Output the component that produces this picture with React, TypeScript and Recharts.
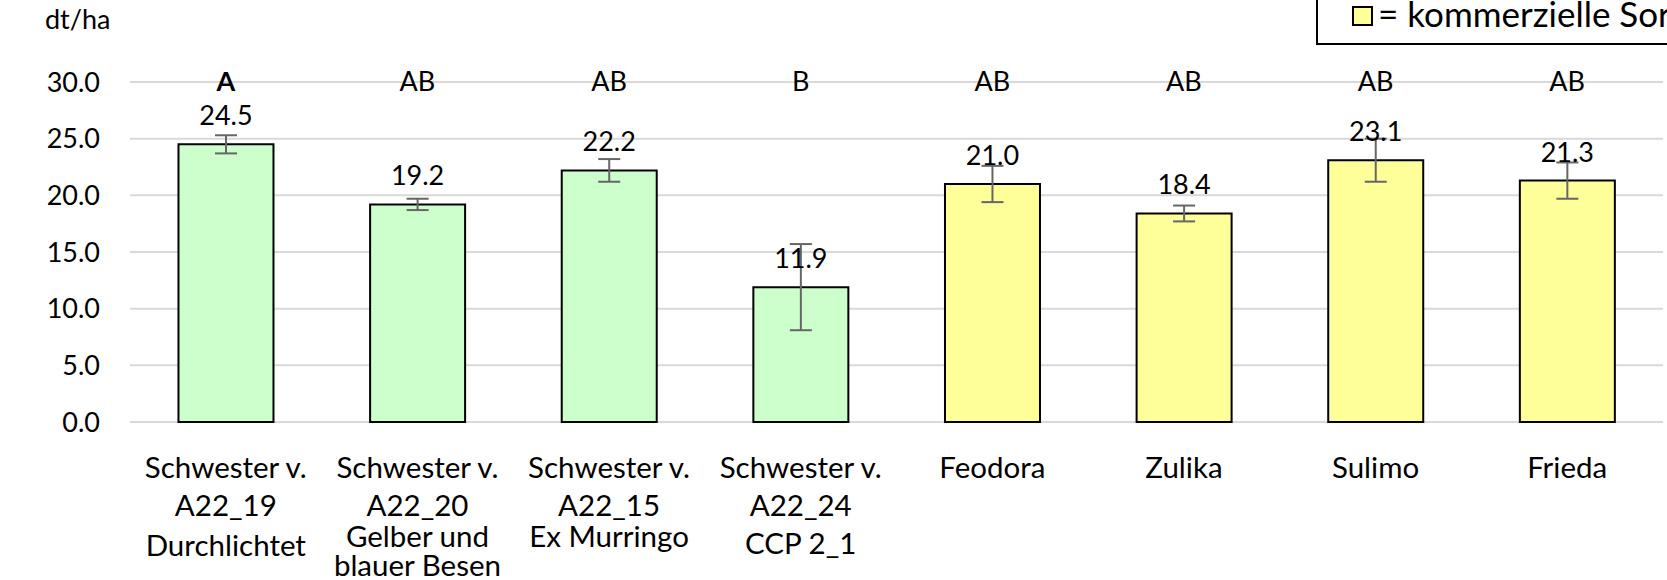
import React from "react";
import { ComposedChart, Bar, Cell, XAxis, YAxis, CartesianGrid, ErrorBar, LabelList, ReferenceDot } from "recharts";

// Ertrag je Sorte (dt/ha) mit Fehlerbalken und Signifikanzbuchstaben
const categoryLines = [
  ["Schwester v.", "A22_19", "Durchlichtet"],
  ["Schwester v.", "A22_20", "Gelber und", "blauer Besen"],
  ["Schwester v.", "A22_15", "Ex Murringo"],
  ["Schwester v.", "A22_24", "CCP 2_1"],
  ["Feodora"],
  ["Zulika"],
  ["Sulimo"],
  ["Frieda"],
];
const yieldValues = [24.5, 19.2, 22.2, 11.9, 21.0, 18.4, 23.1, 21.3];
const errorValues = [0.8, 0.5, 1.0, 3.8, 1.6, 0.7, 1.9, 1.6];
const letters = ["A", "AB", "AB", "B", "AB", "AB", "AB", "AB"];
const boldLetters = [true, false, false, false, false, false, false, false];
const commercial = [false, false, false, false, true, true, true, true];
const yTicks = [0, 5, 10, 15, 20, 25, 30];

const FONT = "Lato, 'DejaVu Sans', sans-serif";
const FS = 27;
const CAT_FS = 29.5;
const GREEN = "#CCFFCC";
const YELLOW = "#FFFF99";
// line gaps of the multi-line category labels (third line sits a bit tighter on some)
const thirdGap = [40, 31, 31, 38];

const data = categoryLines.map((lines, i) => ({
  name: lines.join(" "),
  value: yieldValues[i],
  err: errorValues[i],
}));

function CategoryTick({ x, y, payload }: any) {
  const idx = data.findIndex((d) => d.name === payload.value);
  const lines = categoryLines[idx] || [];
  return (
    <text x={x} y={y + 54} textAnchor="middle" fontFamily={FONT} fontSize={CAT_FS} fill="#000">
      {lines.map((l, i) => (
        <tspan key={i} x={x} dy={i === 0 ? 0 : i === 1 ? 38 : i === 2 ? thirdGap[idx] ?? 38 : 29}>
          {l}
        </tspan>
      ))}
    </text>
  );
}

function ValueLabel({ x, y, width, value }: any) {
  return (
    <text x={x + width / 2} y={y - 19} textAnchor="middle" fontFamily={FONT} fontSize={FS} fill="#000">
      {Number(value).toFixed(1)}
    </text>
  );
}

function letterLabel(i: number) {
  return ({ viewBox }: any) => {
    const cx = viewBox.x + (viewBox.width || 0) / 2;
    const cy = viewBox.y + (viewBox.height || 0) / 2;
    return (
      <text x={cx} y={cy} dy={9} textAnchor="middle" fontFamily={FONT} fontSize={FS} fontWeight={boldLetters[i] ? 700 : 400} fill="#000">
        {letters[i]}
      </text>
    );
  };
}

export default function App() {
  const letterLevel = yTicks[yTicks.length - 1];
  return (
    <div style={{ position: "absolute", left: 0, top: 0, width: 1667, height: 580, overflow: "hidden", background: "#fff" }}>
      <ComposedChart width={1667} height={580} data={data} margin={{ top: 82, right: 4, left: 0, bottom: 0 }} barCategoryGap="25.3%">
        <CartesianGrid vertical={false} stroke="#d9d9d9" strokeWidth={2} />
        <XAxis dataKey="name" height={158} axisLine={false} tickLine={false} tickSize={0} interval={0} tick={<CategoryTick />} />
        <YAxis
          domain={[0, 30]}
          ticks={yTicks}
          width={130}
          axisLine={false}
          tickLine={false}
          tickSize={0}
          tickMargin={30}
          tickFormatter={(v: number) => v.toFixed(1)}
          tick={{ fontFamily: FONT, fontSize: FS, fill: "#000" }}
        />
        <Bar dataKey="value" stroke="#000" strokeWidth={2} isAnimationActive={false}>
          {data.map((d, i) => (
            <Cell key={d.name} fill={commercial[i] ? YELLOW : GREEN} />
          ))}
          <LabelList dataKey="value" content={<ValueLabel />} />
          <ErrorBar dataKey="err" width={11} stroke="#666" strokeWidth={2} direction="y" />
        </Bar>
        {data.map((d, i) => (
          <ReferenceDot
            key={`l-${d.name}`}
            x={d.name}
            y={letterLevel}
            r={0}
            fill="none"
            stroke="none"
            ifOverflow="visible"
            label={letterLabel(i)}
          />
        ))}
      </ComposedChart>
      <div style={{ position: "absolute", left: 45, top: 2, fontFamily: FONT, fontSize: FS, color: "#000" }}>dt/ha</div>
      <div
        style={{
          position: "absolute",
          left: 1316,
          top: -12,
          width: 460,
          height: 57,
          border: "2px solid #000",
          boxSizing: "border-box",
          background: "#fff",
          fontFamily: FONT,
          fontSize: 35,
          whiteSpace: "nowrap",
        }}
      >
        <span
          style={{
            position: "absolute",
            left: 34,
            top: 16,
            width: 17,
            height: 16,
            background: YELLOW,
            border: "2px solid #000",
          }}
        />
        <span style={{ position: "absolute", left: 60, top: 3, lineHeight: "40px" }}>= kommerzielle Sorten</span>
      </div>
    </div>
  );
}
